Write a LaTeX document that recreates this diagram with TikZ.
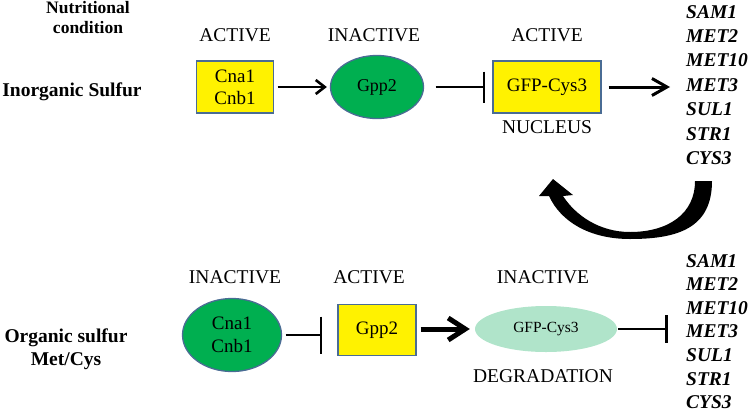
\documentclass[tikz,border=0pt]{standalone}
\usepackage{fontspec}
\setmainfont{Liberation Serif}
\usetikzlibrary{arrows.meta,shapes.geometric}
\definecolor{boxblue}{HTML}{4A6C94}
\definecolor{sgreen}{HTML}{00AF50}
\definecolor{mint}{HTML}{B0E4CA}
\begin{document}
\begin{tikzpicture}[x=1pt,y=-1pt,
  txt/.style={font=\fontsize{19.5}{22}\selectfont, inner sep=0pt, anchor=base},
  cond/.style={font=\fontsize{19.5}{23}\selectfont\bfseries, inner sep=0pt, anchor=base},
  gene/.style={font=\fontsize{19.5}{22}\selectfont\bfseries\itshape, inner sep=0pt, anchor=base west},
  ybox/.style={draw=boxblue, line width=1.3pt, fill=yellow, inner sep=0pt, align=center,
     font=\fontsize{19}{22}\selectfont},
  gell/.style={ellipse, draw=boxblue, line width=1.3pt, fill=sgreen, inner sep=0pt, align=center,
     font=\fontsize{19}{23}\selectfont},
  act/.style={line width=2.6pt, -{Straight Barb[length=9pt,width=14pt]}},
  bigact/.style={line width=2.8pt, -{Straight Barb[length=17pt,width=19pt]}},
  inh/.style={line width=2.8pt, -{Bar[width=31pt]}},
]
\useasboundingbox (0,0) rectangle (750,413);

% left conditions
\node[cond, font=\fontsize{17.5}{21}\selectfont\bfseries] (nut1) at (88,13.5) {Nutritional};
\node[cond, font=\fontsize{17.5}{21}\selectfont\bfseries] (nut2) at (88,33) {condition};
\node[cond] (inorg) at (72,96) {Inorganic Sulfur};
\node[cond] (org1) at (66,342) {Organic sulfur};
\node[cond] (org2) at (66,365) {Met/Cys};

% top row
\node[txt] (l1) at (235,41) {ACTIVE};
\node[txt] (l2) at (374,41) {INACTIVE};
\node[txt] (l3) at (547,41) {ACTIVE};
\node[txt] (nuc) at (547,133) {NUCLEUS};

\node[ybox, minimum width=77pt, minimum height=52pt] (b1) at (235,87) {Cna1\\Cnb1};
\node[gell, minimum width=93pt, minimum height=63pt, font=\fontsize{18}{22}\selectfont] (e1) at (377,87) {Gpp2};
\node[ybox, minimum width=108pt, minimum height=52pt] (b2) at (547,87) {GFP-Cys3};

\foreach \g [count=\i] in {SAM1,MET2,MET10,MET3,SUL1,STR1,CYS3}
  \node[gene] (t\i) at (686,{18+24.4*(\i-1)}) {\g};

\draw[act, shorten <=3.5pt, shorten >=3pt] (b1.east) -- (e1.west);
\draw[inh, shorten <=11.5pt, shorten >=7pt] (e1.east) -- (b2.west);
\draw[act, line width=3pt, -{Straight Barb[length=15pt,width=17pt]}, shorten <=7pt, shorten >=16pt]
  (b2.east) -- (b2.east -| t4.west);

% curved feedback arrow
\fill (712,181) .. controls (712,228) and (678,239) .. (630,239)
  .. controls (590,239) and (561,222) .. (549,196)
  -- (539,196) -- (553,179) -- (573,195) -- (563,196)
  .. controls (576,216) and (600,232) .. (630,232)
  .. controls (668,232) and (695,214) .. (695,181) -- cycle;

% bottom row
\node[txt] (m1) at (235,283) {INACTIVE};
\node[txt] (m2) at (369,283) {ACTIVE};
\node[txt] (m3) at (543,283) {INACTIVE};
\node[txt] (deg) at (543,382) {DEGRADATION};

\node[gell, minimum width=99pt, minimum height=73pt] (e2) at (232,335) {Cna1\\Cnb1};
\node[ybox, minimum width=78pt, minimum height=51pt] (b3) at (377,330) {Gpp2};
\node[ellipse, fill=mint, inner sep=0pt, minimum width=142pt, minimum height=46pt,
  font=\fontsize{15.5}{18}\selectfont] (e3) at (546,329) {GFP-Cys3};

\foreach \g [count=\i] in {SAM1,MET2,MET10,MET3,SUL1,STR1,CYS3}
  \node[gene] (u\i) at (686,{267+23.6*(\i-1)}) {\g};

\draw[inh, -{Bar[width=37pt]}, shorten <=3.5pt, shorten >=15pt] (e2.east) -- (e2.east -| b3.west);
\draw[bigact, line width=5pt, -{Straight Barb[length=17pt,width=22pt]}, shorten <=4pt, shorten >=5pt]
  (e3.west -| b3.east) -- (e3.west);
\draw[inh, -{Bar[width=28pt]}, shorten <=1pt, shorten >=18pt] (e3.east) -- (e3.east -| u4.west);
\end{tikzpicture}
\end{document}
